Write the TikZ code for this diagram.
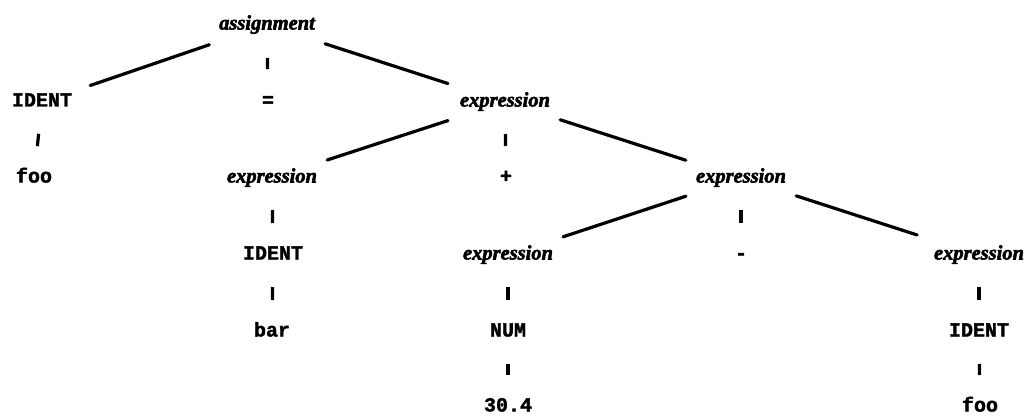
\documentclass[tikz,border=0pt]{standalone}
\usepackage{fontspec}
\newfontfamily\catfont{Liberation Serif}[FakeBold=2.6]
\newfontfamily\tokfont{Liberation Mono}[FakeBold=1.8]
\begin{document}
\begin{tikzpicture}[x=1pt,y=-1pt,
  cat/.style={font=\catfont\bfseries\itshape\fontsize{20.5}{22}\selectfont,
    inner sep=0pt, text height=9pt, text depth=0pt},
  tok/.style={font=\tokfont\bfseries\fontsize{20}{22}\selectfont,
    inner sep=0pt, text height=9pt, text depth=0pt},
  branch/.style={line width=3.2pt, line cap=round, shorten <=58pt, shorten >=58pt},
  tick/.style={line width=3.2pt, shorten <=32pt, shorten >=32pt}]
\useasboundingbox (0,0) rectangle (1027,417);

% grammar symbols and tokens, row by row
\node[cat] (assign) at (267,25)  {assignment};

\node[tok] (id1)    at (42,102)  {IDENT};
\node[tok] (eq)     at (268,102) {=};
\node[cat] (e1)     at (505,102) {expression};

\node[tok] (foo1)   at (34,178)  {foo};
\node[cat] (e2)     at (272,178) {expression};
\node[tok] (plus)   at (506,178) {+};
\node[cat] (e3)     at (741,178) {expression};

\node[tok] (id2)    at (273,255) {IDENT};
\node[cat] (e4)     at (508,255) {expression};
\node[tok] (minus)  at (741,255) {-};
\node[cat] (e5)     at (979,255) {expression};

\node[tok] (bar)    at (272,332) {bar};
\node[tok] (num)    at (508,332) {NUM};
\node[tok] (id3)    at (979,332) {IDENT};

\node[tok] (lit)    at (508,407) {30.4};
\node[tok] (foo2)   at (980,407) {foo};

% slanted branches to the outer children
\draw[branch, shorten <=61pt, shorten >=51pt] (assign.center) -- (id1.center);
\draw[branch, shorten <=61pt, shorten >=60pt] (assign.center) -- (e1.center);
\draw[branch, shorten <=60pt] (e1.center) -- (e2.center);
\draw[branch] (e1.center) -- (e3.center);
\draw[branch] (e3.center) -- (e4.center);
\draw[branch, shorten >=65pt] (e3.center) -- (e5.center);

% short strokes to the middle and single children
\draw[tick, shorten <=33pt, shorten >=33pt] (assign.center) -- (eq.center);
\draw[tick] (id1.center) -- (foo1.center);
\draw[tick] (e1.center) -- (plus.center);
\draw[tick] (e2.center) -- (id2.center);
\draw[tick] (id2.center) -- (bar.center);
\draw[tick] (e3.center) -- (minus.center);
\draw[tick] (e4.center) -- (num.center);
\draw[tick] (num.center) -- (lit.center);
\draw[tick] (e5.center) -- (id3.center);
\draw[tick] (id3.center) -- (foo2.center);
\end{tikzpicture}
\end{document}
